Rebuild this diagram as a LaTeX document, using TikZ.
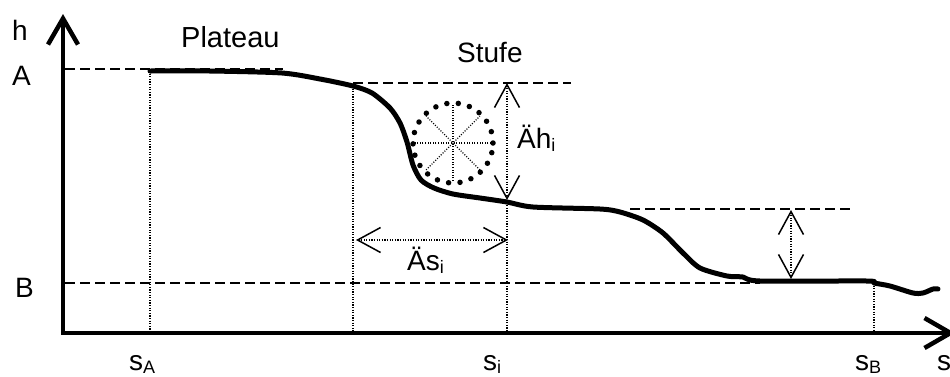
\documentclass[tikz,border=0pt]{standalone}
\usepackage{fontspec}
\setmainfont{Liberation Sans}
\usetikzlibrary{arrows.meta}
\newcommand\lsub[1]{\raisebox{-0.12em}{\fontsize{18}{18}\selectfont #1}}
\begin{document}
\begin{tikzpicture}[x=1pt,y=-1pt,
  axis/.style={line width=4.5pt, line join=miter},
  curve/.style={line width=5pt, line join=round, line cap=round},
  guide/.style={line width=2.8pt, dash pattern=on 10pt off 5pt},
  dotline/.style={line width=1.5pt, dash pattern=on 1.2pt off 1.4pt},
  dimarrow/.style={line width=1.5pt, dash pattern=on 1.2pt off 1.4pt,
    {Straight Barb[length=23pt,width=25pt]}-{Straight Barb[length=23pt,width=25pt]}},
  bigdots/.style={draw, circle, minimum size=80pt, inner sep=0pt, outer sep=0pt,
    line width=5.5pt, line cap=round, dash pattern=on 0pt off 11.5pt},
  spoke/.style={line width=1.1pt, dash pattern=on 1pt off 1.6pt},
  lbl/.style={inner sep=0pt, anchor=base west, font=\fontsize{28}{30}\selectfont},
]
\useasboundingbox (0,0) rectangle (950,376);

% axes
\coordinate (ytop) at (63,14);
\coordinate (origin) at (63,333);
\coordinate (xend) at (955,333);
\draw[axis, {Straight Barb[length=26pt,width=30pt]}-{Straight Barb[length=26pt,width=30pt]}]
  (ytop) -- (origin) -- (xend);

% guide lines (dashed)
\coordinate (gA1) at (65,69);  \coordinate (gA2) at (283,69);
\coordinate (gS1) at (353,83); \coordinate (gS2) at (571,83);
\coordinate (gT1) at (630,209);\coordinate (gT2) at (851,209);
\coordinate (gB1) at (65,283); \coordinate (gB2) at (760,283);
\draw[guide] (gA1) -- (gA2);
\draw[guide] (gS1) -- (gS2);
\draw[guide] (gT1) -- (gT2);
\draw[guide] (gB1) -- (gB2);

% dotted verticals
\coordinate (vA1) at (150,71);  \coordinate (vA2) at (150,331);
\coordinate (vP1) at (353,86);  \coordinate (vP2) at (353,331);
\coordinate (vI1) at (507,200); \coordinate (vI2) at (507,331);
\coordinate (vB1) at (874,283); \coordinate (vB2) at (874,331);
\draw[dotline] (vA1) -- (vA2);
\draw[dotline] (vP1) -- (vP2);
\draw[dotline] (vI1) -- (vI2);
\draw[dotline] (vB1) -- (vB2);

% profile curve
\draw[curve] plot[smooth, tension=0.45] coordinates {
  (150,71) (210,71) (282,73) (320,79) (353,86) (372,93) (390,108) (400,123)
  (407,142) (413,165) (421,180) (434,188) (453,194) (480,198) (507,202)
  (533,207) (600,209) (620,212) (643,220) (663,233) (683,253) (700,268)
  (727,276) (743,277) (760,281) (867,281) (874,283) (890,286) (913,293)
  (923,293) (933,289) (938,289)};

% dimension arrows
\coordinate (dh1) at (507,83);  \coordinate (dh2) at (507,200);
\coordinate (ds1) at (356,240); \coordinate (ds2) at (508,240);
\coordinate (dt1) at (791,210); \coordinate (dt2) at (791,279);
\draw[dimarrow] (dh1) -- (dh2);
\draw[dimarrow] (ds1) -- (ds2);
\draw[dimarrow] (dt1) -- (dt2);

% dotted circle with spokes
\node[bigdots] (circ) at (453,143) {};
\foreach \a in {0,45,90,135}{
  \draw[spoke] ([shift={(\a:38)}]circ.center) -- ([shift={(\a+180:38)}]circ.center);
}

% labels
\node[lbl] (h) at (12,40) {h};
\node[lbl] (A) at (12,85) {A};
\node[lbl] (B) at (15,297) {B};
\node[lbl, font=\fontsize{29}{30}\selectfont] (plateau) at (181,47) {Plateau};
\node[lbl] (stufe) at (457,62) {Stufe};
\node[lbl] (dhl) at (517,148) {Äh\lsub{i}};
\node[lbl] (dsl) at (407,270) {Äs\lsub{i}};
\node[lbl] (sA) at (129,370) {s\lsub{A}};
\node[lbl] (si) at (483,370) {s\lsub{i}};
\node[lbl] (sB) at (855,370) {s\lsub{B}};
\node[lbl] (s) at (937,370) {s};
\end{tikzpicture}
\end{document}
